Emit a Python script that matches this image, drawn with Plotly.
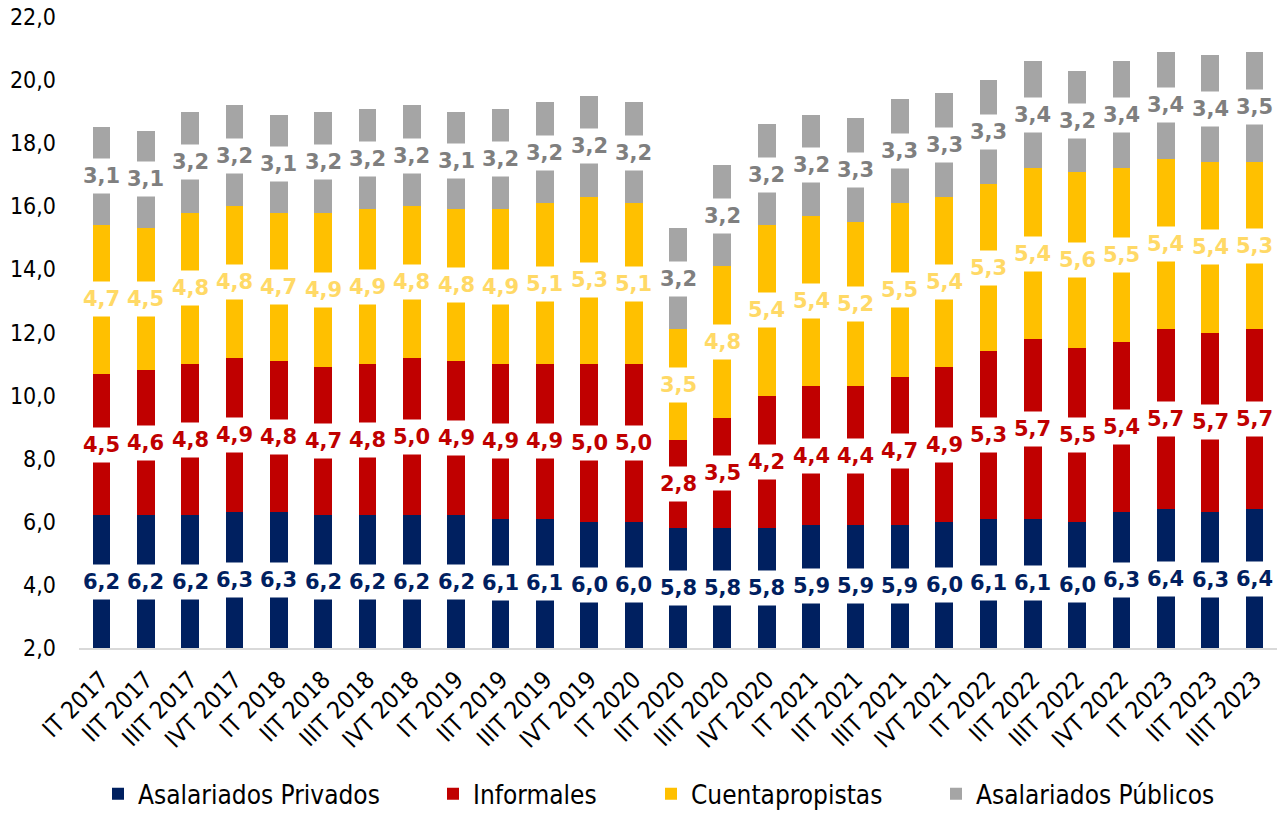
import plotly.graph_objects as go

categories = ["IT 2017", "IIT 2017", "IIIT 2017", "IVT 2017",
              "IT 2018", "IIT 2018", "IIIT 2018", "IVT 2018",
              "IT 2019", "IIT 2019", "IIIT 2019", "IVT 2019",
              "IT 2020", "IIT 2020", "IIIT 2020", "IVT 2020",
              "IT 2021", "IIT 2021", "IIIT 2021", "IVT 2021",
              "IT 2022", "IIT 2022", "IIIT 2022", "IVT 2022",
              "IT 2023", "IIT 2023", "IIIT 2023"]

privados = [6.2, 6.2, 6.2, 6.3, 6.3, 6.2, 6.2, 6.2, 6.2, 6.1, 6.1, 6.0, 6.0,
            5.8, 5.8, 5.8, 5.9, 5.9, 5.9, 6.0, 6.1, 6.1, 6.0, 6.3, 6.4, 6.3, 6.4]
informales = [4.5, 4.6, 4.8, 4.9, 4.8, 4.7, 4.8, 5.0, 4.9, 4.9, 4.9, 5.0, 5.0,
              2.8, 3.5, 4.2, 4.4, 4.4, 4.7, 4.9, 5.3, 5.7, 5.5, 5.4, 5.7, 5.7, 5.7]
cuentapropistas = [4.7, 4.5, 4.8, 4.8, 4.7, 4.9, 4.9, 4.8, 4.8, 4.9, 5.1, 5.3, 5.1,
                   3.5, 4.8, 5.4, 5.4, 5.2, 5.5, 5.4, 5.3, 5.4, 5.6, 5.5, 5.4, 5.4, 5.3]
publicos = [3.1, 3.1, 3.2, 3.2, 3.1, 3.2, 3.2, 3.2, 3.1, 3.2, 3.2, 3.2, 3.2,
            3.2, 3.2, 3.2, 3.2, 3.3, 3.3, 3.3, 3.3, 3.4, 3.2, 3.4, 3.4, 3.4, 3.5]

series_names = ["Asalariados Privados", "Informales", "Cuentapropistas", "Asalariados Públicos"]
bar_colors = ["#002060", "#C00000", "#FFC000", "#A5A5A5"]
label_colors = ["#002060", "#C00000", "#FFD966", "#7F7F7F"]

y_min, y_max = 2.0, 22.0
FONT = "DejaVu Sans Condensed, DejaVu Sans, sans-serif"
LABEL_FONT = "DejaVu Sans, sans-serif"

W, H = 1281, 822
ML, MR, MT, MB = 79, 4, 17, 165
PW = W - ML - MR
PH = H - MT - MB

# legend marker centres (pixels) for each series
legend_px = [118, 453, 671, 956]
legend_ids = ["legend", "legend2", "legend3", "legend4"]

fig = go.Figure()
all_series = [privados, informales, cuentapropistas, publicos]
for name, vals, col, lid in zip(series_names, all_series, bar_colors, legend_ids):
    fig.add_trace(go.Bar(name=name, x=categories, y=vals, marker_color=col,
                         marker_line_width=0, legend=lid))

annotations = []
cum = [0.0] * len(categories)
for vals, lcol in zip(all_series, label_colors):
    for i, v in enumerate(vals):
        lo = max(cum[i], y_min)
        hi = cum[i] + v
        annotations.append(dict(
            x=categories[i], y=(lo + hi) / 2, xref="x", yref="y",
            text=f"{v:.1f}".replace(".", ","), showarrow=False,
            font=dict(family=LABEL_FONT, size=21, color=lcol, weight="bold"),
            bgcolor="white", borderpad=3, height=28,
        ))
        cum[i] = hi

legend_y = (PH - (805 - MT)) / PH
legend_layouts = {}
for lid, px in zip(legend_ids, legend_px):
    legend_layouts[lid] = dict(
        orientation="h", x=(px - 20 - ML) / PW, xanchor="left",
        y=legend_y, yanchor="middle",
        font=dict(family=FONT, size=26, color="black"),
        bgcolor="rgba(0,0,0,0)", borderwidth=0,
    )

fig.update_layout(
    barmode="stack",
    bargap=0.6,
    width=W, height=H,
    margin=dict(l=ML, r=MR, t=MT, b=MB, pad=0),
    plot_bgcolor="white", paper_bgcolor="white",
    separators=",.",
    font=dict(family=FONT, size=20, color="black"),
    annotations=annotations,
    showlegend=True,
    xaxis=dict(tickangle=-45, showline=True, linecolor="#D9D9D9", linewidth=2,
               tickfont=dict(family=FONT, size=24, color="black"),
               showgrid=False, ticks="", automargin=False, ticklabelstandoff=6),
    yaxis=dict(range=[y_min, y_max], dtick=2, tickformat=".1f", showgrid=False,
               zeroline=False, showline=False, ticks="", automargin=False,
               tickfont=dict(family=FONT, size=23, color="black"),
               ticklabelstandoff=22),
    **legend_layouts,
)

fig.write_html("out.html",
               config={"displayModeBar": False},
               post_script="document.body.style.margin='0';document.body.style.overflow='hidden';")
